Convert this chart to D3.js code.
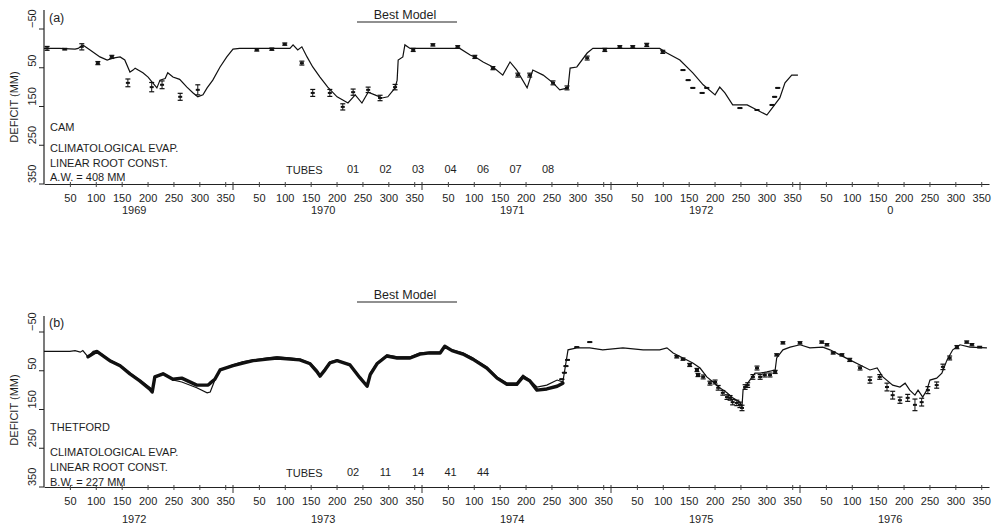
<!DOCTYPE html>
<html>
<head>
<meta charset="utf-8">
<script src="https://cdn.jsdelivr.net/npm/d3@7"></script>
<style>
  body { margin: 0; background: #fff; }
  text { font-family: "Liberation Sans", Arial, sans-serif; fill: #1e1e1e; }
</style>
</head>
<body>
<svg id="chart" width="1005" height="531"></svg>
<script>
// x is a running day count from the first day of the first year (365 days per year)
const dayTicks = [50, 100, 150, 200, 250, 300, 350]
const yTicks = [-50, 50, 150, 250, 350]
const yearsA = ['1969', '1970', '1971', '1972', '0']
const yearsB = ['1972', '1973', '1974', '1975', '1976']
const tubesA = ['01', '02', '03', '04', '06', '07', '08']
const tubesB = ['02', '11', '14', '41', '44']
const notesA = ['CAM', 'CLIMATOLOGICAL EVAP.', 'LINEAR ROOT CONST.', 'A.W. = 408 MM']
const notesB = ['THETFORD', 'CLIMATOLOGICAL EVAP.', 'LINEAR ROOT CONST.', 'B.W. = 227 MM']

// panel (a) model deficit [day, mm]
const modelA = [
  [0, 0], [30, 0], [60, 2], [66, 0], [75, -9], [89, 4], [108, 22], [122, 30], [133, 25],
  [147, 22], [156, 30], [166, 61], [172, 56], [176, 51], [191, 63], [201, 74], [210, 89],
  [218, 102], [224, 82], [234, 78], [239, 63], [249, 74], [262, 80], [276, 100], [288, 115],
  [297, 125], [307, 120], [315, 102], [326, 82], [340, 48], [353, 22], [365, 2], [378, 0],
  [420, 0], [475, 0], [481, -9], [490, 4], [498, -4], [508, 22], [519, 48], [533, 74],
  [548, 100], [566, 125], [577, 133], [587, 141], [601, 120], [614, 141], [626, 113],
  [639, 120], [653, 128], [664, 125], [678, 102], [682, 82], [684, 30], [693, 22], [697, -9],
  [707, 0], [760, 0], [803, 0], [823, 17], [836, 25], [848, 35], [867, 48], [886, 69],
  [900, 35], [913, 56], [933, 102], [944, 56], [964, 69], [983, 89], [996, 107], [1012, 102],
  [1016, 51], [1029, 48], [1049, 12], [1060, 0], [1120, 0], [1189, 0], [1203, 12], [1228, 30],
  [1253, 63], [1273, 94], [1296, 120], [1305, 100], [1315, 115], [1330, 146], [1358, 146],
  [1377, 159], [1396, 172], [1408, 151], [1421, 128], [1431, 89], [1444, 69], [1456, 69]
]
// panel (a) observed deficit [day, mm, error]
const obsA = [
  [6, 0, 5], [40, 2, 2], [73, -4, 8], [104, 38, 4], [131, 22, 4], [162, 89, 10], [208, 100, 12],
  [228, 94, 10], [263, 125, 9], [297, 107, 13], [411, 4, 3], [440, 2, 3], [465, -11, 3],
  [498, 38, 5], [519, 115, 9], [552, 115, 9], [577, 151, 8], [597, 113, 8], [626, 107, 7],
  [649, 128, 7], [678, 100, 7], [713, 4, 4], [751, -9, 3], [799, -4, 3], [832, 22, 4],
  [867, 51, 4], [915, 69, 5], [938, 69, 5], [983, 89, 5], [1010, 102, 5], [1049, 25, 5],
  [1083, 4, 4], [1112, -4, 3], [1137, -4, 3], [1164, -9, 4], [1195, 9, 4], [1234, 56, 0],
  [1244, 82, 0], [1253, 102, 0], [1271, 115, 0], [1280, 102, 0], [1344, 154, 0],
  [1377, 159, 0], [1406, 146, 0], [1411, 125, 0], [1417, 102, 0]
]

// panel (b) model deficit [day, mm]
const modelB = [
  [0, 0], [50, 0], [60, -2], [70, 2], [75, -2], [85, 14], [95, 0], [102, -2], [127, 22],
  [147, 35], [166, 56],
  [185, 74], [205, 94], [209, 100], [214, 69], [230, 56], [249, 74], [266, 79], [295, 94],
  [315, 107], [321, 105], [330, 74], [340, 48], [365, 35], [384, 27], [404, 22], [431, 17],
  [450, 14], [475, 17], [494, 20], [514, 30], [527, 48], [533, 62], [543, 45], [552, 27],
  [566, 22], [591, 35], [610, 66], [624, 87], [630, 56], [643, 30], [662, 9], [682, 14],
  [707, 14], [726, 4], [745, 2], [765, 2], [774, -11], [788, -4], [809, 4], [828, 17],
  [855, 40], [875, 66], [894, 82], [913, 82], [925, 61], [938, 74], [952, 92], [971, 87],
  [991, 74], [1002, 79], [1012, -4], [1029, -9], [1054, -9], [1079, -4], [1118, -9],
  [1157, -4], [1189, -4], [1203, -9], [1215, 4], [1234, 17], [1253, 30], [1267, 43],
  [1280, 66], [1292, 79], [1305, 94], [1319, 107], [1330, 120], [1344, 131], [1348, 143],
  [1350, 100], [1359, 82], [1373, 56], [1383, 56], [1396, 53], [1412, 48], [1415, 17],
  [1427, -4], [1441, -11], [1460, -17], [1479, -9], [1504, -11], [1518, -4], [1537, 9],
  [1556, 22], [1576, 35], [1595, 48], [1609, 43], [1620, 66], [1639, 87], [1653, 92],
  [1663, 82], [1672, 100], [1682, 113], [1688, 100], [1697, 118], [1705, 100], [1711, 74],
  [1724, 69], [1734, 56], [1744, 22], [1755, -4], [1769, -17], [1788, -11], [1821, -9]
]
// panel (b) closely spaced observations, 1972-1974 [day, mm]
const denseB = [
  [85, 14], [102, 0], [127, 24], [147, 37], [166, 58], [185, 76], [205, 98], [209, 105],
  [214, 66], [230, 58], [249, 72], [266, 69], [295, 87], [317, 87], [321, 82], [330, 72],
  [340, 48], [365, 37], [384, 30], [404, 24], [431, 20], [450, 17], [475, 20], [494, 22],
  [514, 32], [527, 52], [533, 64], [543, 47], [552, 30], [566, 24], [591, 35], [610, 68],
  [624, 90], [630, 60], [643, 32], [662, 12], [682, 17], [707, 17], [726, 7], [745, 4],
  [765, 4], [774, -13], [788, -2], [809, 7], [828, 20], [855, 43], [875, 69], [894, 85],
  [913, 85], [925, 66], [938, 76], [952, 100], [971, 97], [991, 90], [1002, 82]
]
// panel (b) observations with error bars [day, mm, error]
const obsB = [
  [1000, 72, 0], [1005, 55, 0], [1008, 38, 0], [1011, 22, 0],
  [1029, -11, 0], [1054, -24, 0], [1222, 14, 3], [1234, 20, 3], [1247, 35, 4], [1261, 48, 4],
  [1263, 61, 4], [1273, 66, 5], [1286, 82, 5], [1296, 79, 5], [1302, 94, 6], [1311, 107, 6],
  [1319, 118, 6], [1325, 120, 6], [1330, 131, 7], [1338, 133, 7], [1344, 138, 7],
  [1348, 146, 7], [1354, 92, 6], [1359, 87, 6], [1369, 66, 6], [1377, 43, 5], [1383, 66, 6],
  [1392, 61, 5], [1402, 61, 5], [1412, 53, 4], [1415, 9, 3], [1427, -22, 3], [1460, -22, 3],
  [1502, -24, 3], [1512, -17, 3], [1524, 4, 3], [1541, 9, 3], [1556, 22, 4], [1576, 43, 5],
  [1595, 74, 8], [1614, 66, 6], [1628, 92, 10], [1639, 113, 10], [1653, 126, 8],
  [1668, 120, 9], [1682, 138, 15], [1695, 131, 10], [1707, 100, 9], [1724, 87, 8],
  [1736, 40, 7], [1749, 17, 5], [1763, -11, 4], [1782, -24, 3], [1792, -17, 3], [1807, -11, 2]
]

const svg = d3.select('#chart')
const x = d3.scaleLinear().domain([0, 5 * 365]).range([44, 989])

function drawPanel(p) {
  const y = d3.scaleLinear().domain([-50, 350]).range([p.y0, p.y0 + 155])
  const axisY = y(350)
  const g = svg.append('g')

  // y axis
  g.append('line')
    .attr('x1', 44).attr('x2', 44)
    .attr('y1', p.axisTop).attr('y2', axisY)
    .attr('stroke', '#222').attr('stroke-width', 1.2)
  g.selectAll('.ytick').data(yTicks).enter().append('line')
    .attr('x1', 39).attr('x2', 44)
    .attr('y1', (d) => y(d)).attr('y2', (d) => y(d))
    .attr('stroke', '#222')
  g.selectAll('.ylab').data(yTicks).enter().append('text')
    .attr('transform', (d) => `translate(36, ${y(d) - 1}) rotate(-90)`)
    .attr('font-size', 11)
    .text((d) => (d < 0 ? '\u2212' + Math.abs(d) : d))
  g.append('text')
    .attr('transform', `translate(18, ${p.labelY}) rotate(-90)`)
    .attr('text-anchor', 'middle')
    .attr('font-size', 11)
    .text('DEFICIT (MM)')

  // x axis
  const allTicks = []
  for (let k = 0; k < 5; k++) dayTicks.forEach((t) => allTicks.push(k * 365 + t))
  const xAxis = g.append('g')
    .attr('transform', `translate(0, ${axisY})`)
    .call(d3.axisBottom(x).tickValues(allTicks).tickSizeInner(3).tickSizeOuter(0)
      .tickPadding(7).tickFormat((d) => d % 365))
  xAxis.select('.domain').attr('stroke', '#222').attr('stroke-width', 1.2)
  xAxis.selectAll('.tick line').attr('stroke', '#444').attr('y1', -2)
  xAxis.selectAll('.tick text').attr('font-size', 11).attr('fill', '#1e1e1e')
    .style('font-family', '"Liberation Sans", Arial, sans-serif')
  g.selectAll('.ybound').data([1, 2, 3, 4]).enter().append('line')
    .attr('x1', (k) => x(k * 365)).attr('x2', (k) => x(k * 365))
    .attr('y1', axisY - 2).attr('y2', axisY + 6)
    .attr('stroke', '#333')
  g.selectAll('.year').data(p.years).enter().append('text')
    .attr('x', (d, i) => x(i * 365 + 182) - 4)
    .attr('y', axisY + p.yearDy)
    .attr('text-anchor', 'middle')
    .attr('font-size', 11)
    .text((d) => d)

  // title
  g.append('text').attr('x', 405).attr('y', p.titleY)
    .attr('text-anchor', 'middle').attr('font-size', 12.5).text('Best Model')
  g.append('line').attr('x1', 357).attr('x2', 457)
    .attr('y1', p.titleY + 3).attr('y2', p.titleY + 3)
    .attr('stroke', '#222').attr('stroke-width', 1.2)
  g.append('text').attr('x', 49).attr('y', p.tagY).attr('font-size', 12.5).text(p.tag)

  // notes
  g.selectAll('.note').data(p.notes).enter().append('text')
    .attr('x', 50)
    .attr('y', (d, i) => axisY + p.noteDy[i])
    .attr('font-size', 11)
    .text((d) => d)
  g.append('text').attr('x', 286).attr('y', axisY - 10)
    .attr('font-size', 11).text('TUBES')
  g.selectAll('.tube').data(p.tubes).enter().append('text')
    .attr('x', (d, i) => 353 + i * 32.5)
    .attr('y', axisY - 11)
    .attr('text-anchor', 'middle')
    .attr('font-size', 11)
    .text((d) => d)

  // series
  const line = d3.line().x((d) => x(d[0])).y((d) => y(d[1]))
  if (p.dense) {
    g.append('path').datum(p.dense)
      .attr('d', line)
      .attr('fill', 'none').attr('stroke', '#111').attr('stroke-width', 3.4)
      .attr('stroke-linejoin', 'round').attr('stroke-linecap', 'round')
  }
  g.append('path').datum(p.model)
    .attr('d', line)
    .attr('fill', 'none').attr('stroke', '#111').attr('stroke-width', 1.2)

  const bars = g.selectAll('.obs').data(p.obs).enter().append('g')
  bars.append('line')
    .attr('x1', (d) => x(d[0])).attr('x2', (d) => x(d[0]))
    .attr('y1', (d) => y(d[1] - d[2])).attr('y2', (d) => y(d[1] + d[2]))
    .attr('stroke', '#111').attr('stroke-width', 1)
  bars.append('line')
    .attr('x1', (d) => x(d[0]) - 2.5).attr('x2', (d) => x(d[0]) + 2.5)
    .attr('y1', (d) => y(d[1] - d[2])).attr('y2', (d) => y(d[1] - d[2]))
    .attr('stroke', '#111').attr('stroke-width', 1.2)
  bars.append('line')
    .attr('x1', (d) => x(d[0]) - 2.5).attr('x2', (d) => x(d[0]) + 2.5)
    .attr('y1', (d) => y(d[1] + d[2])).attr('y2', (d) => y(d[1] + d[2]))
    .attr('stroke', '#111').attr('stroke-width', 1.2)
  bars.append('rect')
    .attr('x', (d) => x(d[0]) - 2).attr('y', (d) => y(d[1]) - 1)
    .attr('width', 4).attr('height', 2)
    .attr('fill', '#111')
}

drawPanel({
  y0: 29, axisTop: 10, labelY: 107, titleY: 19, tagY: 22, tag: '(a)',
  years: yearsA, yearDy: 30, notes: notesA, noteDy: [-53, -32, -17, -3], tubes: tubesA,
  model: modelA, obs: obsA
})
drawPanel({
  y0: 332, axisTop: 316, labelY: 410, titleY: 299, tagY: 327, tag: '(b)',
  years: yearsB, yearDy: 36, notes: notesB, noteDy: [-56, -31, -16, -1], tubes: tubesB,
  model: modelB, dense: denseB, obs: obsB
})
</script>
</body>
</html>
